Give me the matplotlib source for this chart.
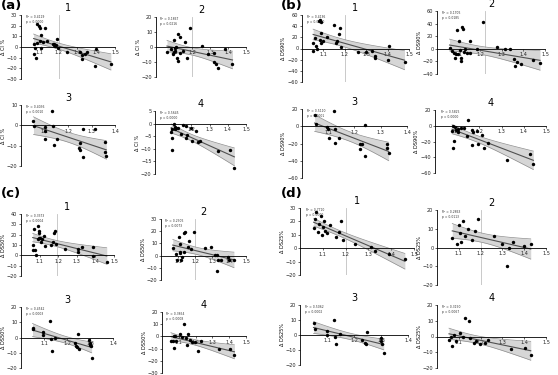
import math
import numpy as np
import matplotlib
matplotlib.use('Agg')
import matplotlib.pyplot as plt

# ---- data ----
a1_x = [1.067, 1.073, 1.069, 1.082, 1.085, 1.087, 1.095, 1.100, 1.104, 1.100, 1.115, 1.127, 1.138, 1.105, 1.170,
        1.173, 1.178, 1.180, 1.185, 1.190, 1.196, 1.245, 1.316, 1.324, 1.324, 1.342, 1.350, 1.396, 1.400, 1.478]
a1_y = [3, -0.6, -7, -10, 3.4, 22, 20, 18, 11, 5.6, 5, 17.6, 5.6, -0.6, 3,
        1.5, 3, 1, 2, 7.7, -1, -4.3, -4.3, -7.7, -10.8, -6.8, -5, -17.6, -1.5, -15.5]
a2_x = [1.061, 1.082, 1.093, 1.098, 1.104, 1.105, 1.110, 1.102, 1.125, 1.136, 1.118, 1.121, 1.132, 1.150, 1.159,
        1.170, 1.187, 1.254, 1.289, 1.325, 1.321, 1.334, 1.346, 1.386, 1.425]
a2_y = [-3.3, -1.1, -4.8, -3.3, -2.6, -0.7, 0, 4.4, 8.8, 6.6, -7.3, -9.5, -3.7, -2.6, 3.3,
        -7, 12.7, 0.7, -4.4, -4.2, -9.7, -11.4, -14, -1.5, -11.4]
a3_x = [1.053, 1.057, 1.101, 1.101, 1.101, 1.134, 1.138, 1.140, 1.153, 1.251, 1.246, 1.249, 1.263, 1.263, 1.315,
        1.356, 1.359, 1.363]
a3_y = [2.3, -0.3, -1, -2.6, -6.6, 7.2, -0.3, -9.8, -6.9, -8.9, -11.3, -12.1, -15.4, -2, -2, -8, -13.3, -15.1]
a4_x = [1.089, 1.093, 1.096, 1.096, 1.102, 1.110, 1.110, 1.116, 1.129, 1.141, 1.152, 1.170, 1.173, 1.177, 1.200,
        1.204, 1.227, 1.236, 1.245, 1.348, 1.414, 1.436]
a4_y = [-3.3, -2.3, -5.8, -10.5, -0.1, -1.5, -2.2, -1.9, -1.9, -4, -0.5, -1, -5.8, -4.7, -1.9,
        -7.1, -3, -7.4, -6.8, -11, -10.4, -17.8]

b1_x = [1.052, 1.059, 1.052, 1.067, 1.068, 1.079, 1.083, 1.087, 1.083, 1.089, 1.089, 1.100, 1.119, 1.151, 1.159,
        1.165, 1.171, 1.178, 1.183, 1.262, 1.298, 1.325, 1.341, 1.341, 1.405, 1.402, 1.479]
b1_y = [10.6, 19.4, -5.3, 4.7, 0, 48.8, 50.6, 48, 15.3, 27, 10.6, 13.5, 21, 42, 10.6,
        13, 26, 37, 1.8, -7, -7, -4.7, -14, -17.6, 4.7, -20.6, -24.7]
b2_x = [1.058, 1.070, 1.077, 1.083, 1.089, 1.094, 1.097, 1.102, 1.105, 1.111, 1.111, 1.117, 1.122, 1.123, 1.130,
        1.137, 1.152, 1.153, 1.184, 1.211, 1.278, 1.313, 1.339, 1.355, 1.363, 1.372, 1.388, 1.445, 1.477]
b2_y = [1.6, -3.7, -6.4, -14, -9, 30, -9, 12.8, -2, -14, -19.7, 34, 32, -5.3, 0,
        -6.4, 11.7, -6.4, -1, 42.5, 3.2, 0, 0, -16, -26.6, -21, -24, -18, -22.3]
b3_x = [1.048, 1.053, 1.095, 1.099, 1.102, 1.121, 1.127, 1.127, 1.140, 1.220, 1.222, 1.229, 1.241, 1.241, 1.324,
        1.324, 1.330]
b3_y = [13.5, 2.7, -1.2, -3, -13.5, 18, -3, -19, -14, -21, -26, -20, 2, -34.6, -21, -25, -31.5]
b4_x = [1.077, 1.083, 1.086, 1.083, 1.092, 1.095, 1.102, 1.102, 1.116, 1.132, 1.150, 1.143, 1.165, 1.165, 1.173,
        1.188, 1.195, 1.210, 1.222, 1.240, 1.326, 1.428, 1.443]
b4_y = [-7.2, 0, -19, -28.7, -1.7, -5, -3.8, -8.4, -3, -3, 6.8, -12.7, -6, -25, -8.4,
        -7, -23, -11.4, -28, -22, -43, -35.4, -49]

c1_x = [1.063, 1.064, 1.068, 1.077, 1.080, 1.089, 1.091, 1.095, 1.095, 1.098, 1.104, 1.107, 1.113, 1.121, 1.130,
        1.161, 1.170, 1.175, 1.184, 1.189, 1.238, 1.309, 1.309, 1.327, 1.386, 1.389, 1.461]
c1_y = [4.8, 9.7, 25.8, 5.5, 0, 28.7, 16, 16.8, 24, 22, 16.8, 13, 16, 19, 9.4,
        10, 12.6, 21.6, 24, 11, 6.5, 6, 3, 7.7, 8, -1, -6.8]
c2_x = [1.069, 1.087, 1.105, 1.109, 1.109, 1.111, 1.096, 1.120, 1.124, 1.133, 1.138, 1.142, 1.156, 1.165, 1.175,
        1.193, 1.260, 1.296, 1.320, 1.327, 1.327, 1.338, 1.351, 1.396, 1.400, 1.429]
c2_y = [6.6, 1.4, 15.6, 9.6, 3.3, 2.5, -3.6, -3.6, -0.8, 18.3, 3.3, 19, 6.8, 12.3, 5.5,
        19, 6, 6.8, 0.5, 0.5, -12.6, -4, -4, -0.8, -3.6, -4]
c3_x = [1.050, 1.054, 1.097, 1.097, 1.126, 1.130, 1.133, 1.147, 1.233, 1.237, 1.243, 1.250, 1.251, 1.297, 1.300,
        1.300, 1.304, 1.307]
c3_y = [6.3, 5.9, 3.7, 1.5, 10.9, -0.7, -8.7, 0, -3.9, -5.4, -6.1, 2.6, -7.6, -1.7, -3.3, -4.6, -5.4, -13.3]
c4_x = [1.053, 1.063, 1.069, 1.069, 1.079, 1.083, 1.105, 1.119, 1.128, 1.144, 1.148, 1.152, 1.168, 1.178, 1.194,
        1.217, 1.233, 1.340, 1.405, 1.431]
c4_y = [-3.5, -3.5, -9.6, 0.5, 0, -3.5, 1.9, -0.8, 10.4, -1.6, -7.4, 1.9, -2.9, -4.3, -4.8,
        -12.2, -4, -10, -10.6, -15.4]

d1_x = [1.060, 1.065, 1.070, 1.080, 1.085, 1.090, 1.095, 1.100, 1.105, 1.110, 1.120, 1.130, 1.160, 1.170, 1.180,
        1.190, 1.240, 1.310, 1.330, 1.390, 1.460]
d1_y = [15, 22, 27, 12, 18, 24, 10, 16, 20, 13, 11, 17, 8, 12, 20, 6, 3, 1, -2, -4, -8]
d2_x = [1.070, 1.090, 1.100, 1.105, 1.110, 1.120, 1.130, 1.140, 1.160, 1.175, 1.190, 1.260, 1.300, 1.320, 1.330,
        1.350, 1.400, 1.430]
d2_y = [5, 2, 12, 8, 3, 14, 6, 10, 4, 9, 15, 6, 2, -10, 0, 3, 1, 2]
d3_x = [1.050, 1.055, 1.100, 1.100, 1.125, 1.130, 1.135, 1.150, 1.230, 1.240, 1.245, 1.250, 1.300, 1.300, 1.305,
        1.310]
d3_y = [8, 4, 3, 0, 10, -1, -6, 1, -3, -5, -6, 2, -2, -4, -6, -12]
d4_x = [1.055, 1.065, 1.070, 1.080, 1.085, 1.105, 1.120, 1.130, 1.145, 1.150, 1.170, 1.180, 1.195, 1.220, 1.235,
        1.340, 1.405, 1.430]
d4_y = [-2, 0, -6, 1, -3, 2, 0, 12, 10, -1, -4, -3, -5, -4, -2, -8, -7, -12]

ylabels = ['Δ CI %', 'Δ DS90%', 'Δ DS50%', 'Δ DS25%']

W, H = 558, 375
fig = plt.figure(figsize=(W / 100, H / 100), dpi=100)


def draw(box, x, y, xmax, yticks, ylabel, title, vline=None):
    l, t, r, b = box
    ax = fig.add_axes([l / W, 1 - b / H, (r - l) / W, (b - t) / H])
    x = np.array(x, float)
    y = np.array(y, float)
    n = len(x)
    slope, icpt = np.polyfit(x, y, 1)
    xs = np.linspace(x.min(), x.max(), 60)
    yh = slope * xs + icpt
    res = y - (slope * x + icpt)
    s = np.sqrt((res ** 2).sum() / (n - 2))
    sxx = ((x - x.mean()) ** 2).sum()
    se = s * np.sqrt(1 / n + (xs - x.mean()) ** 2 / sxx)
    band = 2.05 * se
    ax.fill_between(xs, yh - band, yh + band, color='#d6d6d6', lw=0, zorder=1)
    ax.plot(xs, yh - band, color='#8c8c8c', lw=0.5, zorder=2)
    ax.plot(xs, yh + band, color='#8c8c8c', lw=0.5, zorder=2)
    ax.plot(xs, yh, color='#505050', lw=0.8, zorder=2)
    ax.scatter(x, y, s=6, color='black', lw=0, zorder=4)
    if vline is not None:
        ax.axvline(vline, color='#c0c0c0', lw=0.6, zorder=0)

    # stats text
    r2 = 1 - (res ** 2).sum() / ((y - y.mean()) ** 2).sum()
    tstat = slope / (s / np.sqrt(sxx))
    p = math.erfc(abs(tstat) / math.sqrt(2))
    ax.text(0.05, 1.0, f'R² = {r2:.4f}\np = {p:.4f}', transform=ax.transAxes,
            fontsize=2.2, va='top', ha='left', color='#333333')

    ax.set_xlim(1.0, xmax)
    ax.set_ylim(yticks[-1], yticks[0])
    ax.set_yticks(yticks)
    ax.set_xticks(np.arange(1.1, xmax + 0.01, 0.1))
    ax.set_xticklabels([f'{v:.1f}' for v in np.arange(1.1, xmax + 0.01, 0.1)])
    for side in ['top', 'right']:
        ax.spines[side].set_visible(False)
    ax.spines['bottom'].set_position(('data', 0))
    ax.spines['left'].set_linewidth(0.6)
    ax.spines['bottom'].set_linewidth(0.6)
    ax.tick_params(labelsize=3.6, length=1.5, width=0.5, pad=1, colors='#222222')
    ax.patch.set_alpha(0)
    ax.set_ylabel(ylabel, fontsize=3.6, labelpad=1)
    ax.set_title(title, fontsize=7, pad=3)
    return ax


# panel (a)
draw((21, 15, 115, 79), a1_x, a1_y, 1.5, [30, 20, 10, 0, -10, -20, -30], ylabels[0], '1', 1.2)
draw((156, 17, 246, 77), a2_x, a2_y, 1.5, [20, 10, 0, -10, -20], ylabels[0], '2', 1.2)
draw((21, 105, 115, 166), a3_x, a3_y, 1.4, [10, 0, -10, -20], ylabels[0], '3')
draw((155, 111, 246, 174), a4_x, a4_y, 1.5, [5, 0, -5, -10, -15, -20], ylabels[0], '4')
# panel (b)
draw((302, 15, 409, 82), b1_x, b1_y, 1.5, [60, 40, 20, 0, -20, -40, -60], ylabels[1], '1', 1.2)
draw((437, 11, 545, 74), b2_x, b2_y, 1.5, [60, 40, 20, 0, -20, -40], ylabels[1], '2', 1.223)
draw((302, 109, 407, 178), b3_x, b3_y, 1.4, [20, 0, -20, -40, -60], ylabels[1], '3')
draw((435, 110, 546, 173), b4_x, b4_y, 1.5, [20, 0, -20, -40, -60], ylabels[1], '4')
# panel (c)
draw((21, 214, 114, 276), c1_x, c1_y, 1.5, [40, 30, 20, 10, 0, -10, -20], ylabels[2], '1', 1.193)
draw((161, 219, 246, 280), c2_x, c2_y, 1.5, [30, 20, 10, 0, -10, -20], ylabels[2], '2', 1.2)
draw((21, 307, 113, 368), c3_x, c3_y, 1.4, [20, 10, 0, -10, -20], ylabels[2], '3')
draw((162, 312, 246, 373), c4_x, c4_y, 1.5, [20, 10, 0, -10, -20, -30], ylabels[2], '4')
# panel (d)
draw((300, 208, 414, 275), d1_x, d1_y, 1.5, [30, 20, 10, 0, -10, -20], ylabels[3], '1', 1.2)
draw((437, 210, 546, 285), d2_x, d2_y, 1.5, [20, 10, 0, -10, -20], ylabels[3], '2', 1.2)
draw((300, 305, 408, 365), d3_x, d3_y, 1.4, [20, 10, 0, -10, -20], ylabels[3], '3')
draw((437, 305, 546, 368), d4_x, d4_y, 1.5, [20, 10, 0, -10, -20], ylabels[3], '4')

for lab, px, py in [('(a)', 1, 6), ('(b)', 281, 6), ('(c)', 1, 194), ('(d)', 281, 194)]:
    fig.text(px / W, 1 - py / H, lab, fontsize=9.5, fontweight='bold', va='center', ha='left')

fig.savefig('out.png', dpi=100)
